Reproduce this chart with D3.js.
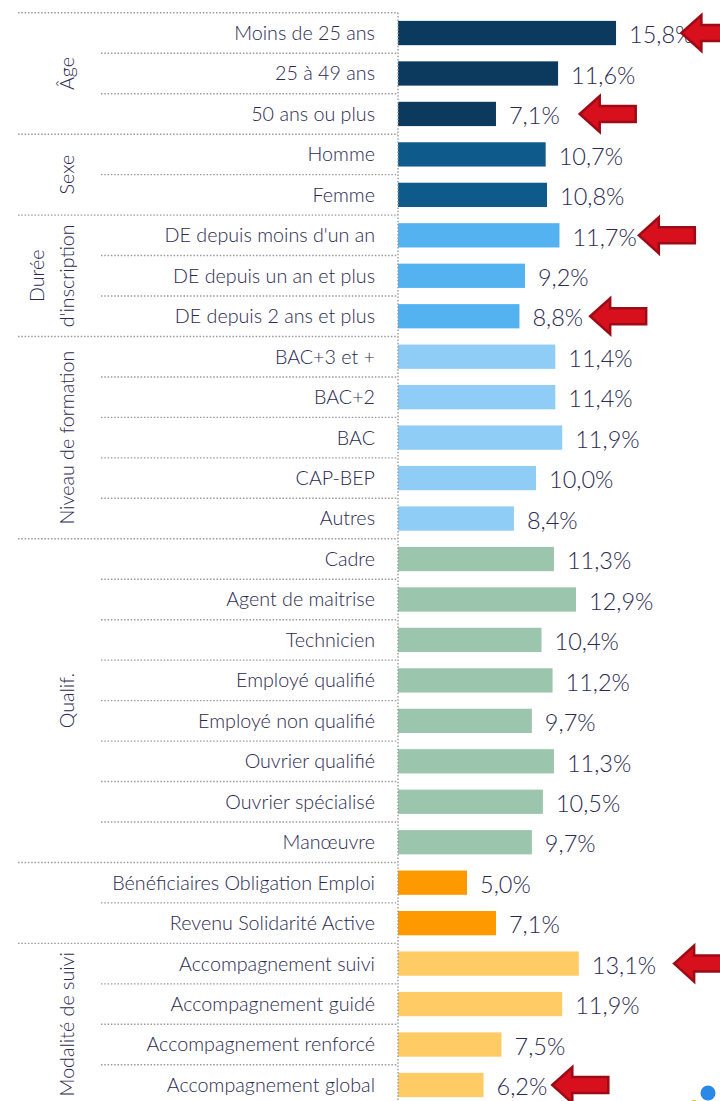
<!DOCTYPE html>
<html>
<head>
<meta charset="utf-8">
<script src="https://cdn.jsdelivr.net/npm/d3@7"></script>
<style>
  body { margin: 0; background: #fff; }
  text { font-family: "Lato", "Open Sans", sans-serif; font-weight: 300; fill: #2b2950; }
</style>
</head>
<body>
<div id="chart"></div>
<script>
var categories = [
  "Moins de 25 ans", "25 à 49 ans", "50 ans ou plus",
  "Homme", "Femme",
  "DE depuis moins d'un an", "DE depuis un an et plus", "DE depuis 2 ans et plus",
  "BAC+3 et +", "BAC+2", "BAC", "CAP-BEP", "Autres",
  "Cadre", "Agent de maitrise", "Technicien", "Employé qualifié", "Employé non qualifié",
  "Ouvrier qualifié", "Ouvrier spécialisé", "Manœuvre",
  "Bénéficiaires Obligation Emploi", "Revenu Solidarité Active",
  "Accompagnement suivi", "Accompagnement guidé", "Accompagnement renforcé", "Accompagnement global"
];
var values = [
  15.8, 11.6, 7.1,
  10.7, 10.8,
  11.7, 9.2, 8.8,
  11.4, 11.4, 11.9, 10.0, 8.4,
  11.3, 12.9, 10.4, 11.2, 9.7, 11.3, 10.5, 9.7,
  5.0, 7.1,
  13.1, 11.9, 7.5, 6.2
];
var groupNames = [["Âge"], ["Sexe"], ["Durée", "d'inscription"], ["Niveau de formation"], ["Qualif."], [], ["Modalité de suivi"]];
var groupSizes = [3, 2, 3, 5, 8, 2, 4];
var groupColors = ["#0b3a5e", "#0d5a8b", "#55b2f1", "#8fccf6", "#9bc5ac", "#fe9a00", "#fecb65"];
var highlighted = ["Moins de 25 ans", "50 ans ou plus", "DE depuis moins d'un an",
                   "DE depuis 2 ans et plus", "Accompagnement suivi", "Accompagnement global"];

var w = 720, h = 1101;
var top0 = 12.8, step = 40.46;
var axisX = 398;

var svg = d3.select("#chart").append("svg")
    .attr("width", w)
    .attr("height", h);

var y = d3.scaleBand()
    .domain(categories)
    .range([top0, top0 + categories.length * step])
    .paddingInner(0.4)
    .paddingOuter(0.2);

var x = d3.scaleLinear()
    .domain([0, 20])
    .range([axisX, axisX + 276]);

var fr = d3.formatLocale({decimal: ",", thousands: " ", grouping: [3], currency: ["", "€"]});
var fmt = function(v) { return fr.format(".1f")(v) + "%"; };

// which group each row belongs to
var rowGroup = [];
groupSizes.forEach(function(n, g) { for (var i = 0; i < n; i++) rowGroup.push(g); });
var groupStart = groupSizes.map(function(n, g) { return d3.sum(groupSizes.slice(0, g)); });

var rows = categories.map(function(c, i) {
  return {label: c, value: values[i], group: rowGroup[i], first: groupStart[rowGroup[i]] === i};
});

// separators (top boundary of every row)
var sep = svg.append("g").attr("class", "separators")
    .attr("stroke", "#9a9a9a").attr("stroke-width", 1.4).attr("stroke-dasharray", "1.5,1.8");
sep.selectAll("line.row")
  .data(rows)
  .enter().append("line")
    .attr("x1", function(d) { return d.first ? 18 : 101; })
    .attr("x2", axisX)
    .attr("y1", function(d) { return y(d.label) - step * 0.2; })
    .attr("y2", function(d) { return y(d.label) - step * 0.2; });

// bars
svg.append("g").selectAll("rect")
  .data(rows)
  .enter().append("rect")
    .attr("x", x(0))
    .attr("y", function(d) { return y(d.label); })
    .attr("width", function(d) { return x(d.value) - x(0); })
    .attr("height", y.bandwidth())
    .attr("fill", function(d) { return groupColors[d.group]; });

// vertical axis line
svg.append("line")
    .attr("x1", axisX).attr("x2", axisX)
    .attr("y1", top0).attr("y2", h)
    .attr("stroke", "#9a9a9a").attr("stroke-width", 1.4).attr("stroke-dasharray", "1.5,1.8");

// category labels
svg.append("g").selectAll("text")
  .data(rows)
  .enter().append("text")
    .attr("x", 375)
    .attr("y", function(d) { return y(d.label) + y.bandwidth() / 2; })
    .attr("dy", "0.35em")
    .attr("text-anchor", "end")
    .style("font-size", "19.7px")
    .text(function(d) { return d.label; });

// value labels
var vlabels = svg.append("g").selectAll("text")
  .data(rows)
  .enter().append("text")
    .attr("x", function(d) { return x(d.value) + 13; })
    .attr("y", function(d) { return y(d.label) + y.bandwidth() / 2 + 2; })
    .attr("dy", "0.35em")
    .style("font-size", "23.5px")
    .text(function(d) { return fmt(d.value); });

// group labels, rotated
groupNames.forEach(function(lines, g) {
  if (!lines.length) return;
  var a = categories[groupStart[g]], b = categories[groupStart[g] + groupSizes[g] - 1];
  var cy = (y(a) + y(b) + y.bandwidth()) / 2;
  lines.forEach(function(t, k) {
    var cx = 67 - (lines.length - 1 - k) * 30;
    svg.append("text")
        .attr("transform", "translate(" + cx + "," + cy + ") rotate(-90)")
        .attr("text-anchor", "middle")
        .attr("dy", "0.35em")
        .style("font-size", "19.7px")
        .text(t);
  });
});

// red arrows next to the highlighted values
var nudge = {"Moins de 25 ans": -12, "50 ans ou plus": 20, "DE depuis moins d'un an": 2,
             "DE depuis 2 ans et plus": 7, "Accompagnement suivi": 18, "Accompagnement global": 5};
vlabels.each(function(d) {
  if (highlighted.indexOf(d.label) < 0) return;
  var tip = +d3.select(this).attr("x") + this.getComputedTextLength() + nudge[d.label];
  var cy = y(d.label) + y.bandwidth() / 2;
  svg.append("path")
      .attr("d", "M0,0 L20,-18 L20,-8 L56,-8 L56,8 L20,8 L20,18 Z")
      .attr("transform", "translate(" + tip + "," + cy + ")")
      .attr("fill", "#d80f1c")
      .attr("stroke", "#9c0b16")
      .attr("stroke-width", 2.5)
      .attr("stroke-linejoin", "miter");
});

// stray marks at the bottom right corner
svg.append("circle").attr("cx", 694).attr("cy", 1105).attr("r", 5).attr("fill", "#f4c20d");
svg.append("circle").attr("cx", 708).attr("cy", 1093).attr("r", 7.5).attr("fill", "#2a88e6");
</script>
</body>
</html>
